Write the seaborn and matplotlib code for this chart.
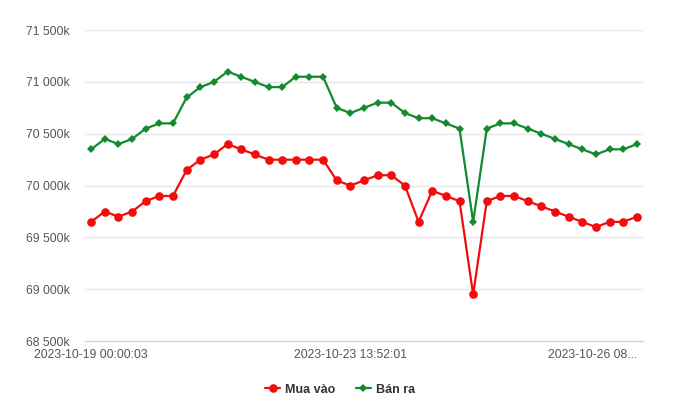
import numpy as np
import pandas as pd
import matplotlib
matplotlib.use('Agg')
import matplotlib.pyplot as plt
import matplotlib.ticker as mticker
import matplotlib.transforms as mtransforms
from matplotlib.lines import Line2D
import seaborn as sns

# gold price (thousand VND), one value per update
mua_vao = [69650, 69750, 69700, 69750, 69850, 69900, 69900, 70150, 70250, 70300,
           70400, 70350, 70300, 70250, 70250, 70250, 70250, 70250, 70050, 70000,
           70050, 70100, 70100, 70000, 69650, 69950, 69900, 69850, 68950, 69850,
           69900, 69900, 69850, 69800, 69750, 69700, 69650, 69600, 69650, 69650,
           69700]
ban_ra = [70350, 70450, 70400, 70450, 70550, 70600, 70600, 70850, 70950, 71000,
          71100, 71050, 71000, 70950, 70950, 71050, 71050, 71050, 70750, 70700,
          70750, 70800, 70800, 70700, 70650, 70650, 70600, 70550, 69650, 70550,
          70600, 70600, 70550, 70500, 70450, 70400, 70350, 70300, 70350, 70350,
          70400]
tick_idx = [0, 19, 38]
tick_labels = ['2023-10-19 00:00:03', '2023-10-23 13:52:01', '2023-10-26 08...']
y_ticks = [68500, 69000, 69500, 70000, 70500, 71000, 71500]

df = pd.DataFrame({'idx': np.arange(len(mua_vao)), 'Mua vào': mua_vao, 'Bán ra': ban_ra})

sns.set_style('white')
plt.rcParams['font.family'] = ['Liberation Sans', 'DejaVu Sans']

red = '#f20d0d'
green = '#138a2e'

fig = plt.figure(figsize=(6.8, 4.18), dpi=100)
ax = fig.add_axes([0.125, 0.184, 0.8206, 0.744])

sns.lineplot(data=df, x='idx', y='Mua vào', ax=ax, color=red, lw=1.6,
             marker='o', markersize=6.2, markeredgewidth=0, zorder=3)
sns.lineplot(data=df, x='idx', y='Bán ra', ax=ax, color=green, lw=1.6,
             marker='D', markersize=4.2, markeredgewidth=0, zorder=3)

ax.set_xlim(-0.45, len(mua_vao) - 0.55)
ax.set_ylim(68500, 71500)
ax.set_yticks(y_ticks)
ax.yaxis.set_major_formatter(mticker.FuncFormatter(lambda v, p: f'{v:,.0f}'.replace(',', ' ') + 'k'))
ax.set_xticks(tick_idx)
ax.set_xticklabels(tick_labels)
ax.tick_params(axis='both', length=0, labelsize=8.8, labelcolor='#555555')
ax.tick_params(axis='y', pad=11)
ax.tick_params(axis='x', pad=6)
# last label is clipped by the chart edge, nudge it left
last = ax.get_xticklabels()[-1]
last.set_transform(last.get_transform() + mtransforms.ScaledTranslation(-17 / 100, 0, fig.dpi_scale_trans))
ax.grid(axis='y', color='#e6e6e6', lw=1)
ax.set_axisbelow(True)
ax.set_xlabel('')
ax.set_ylabel('')
for s in ['top', 'right', 'left']:
    ax.spines[s].set_visible(False)
ax.spines['bottom'].set_color('#ccd6eb')
ax.spines['bottom'].set_linewidth(1)

handles = [Line2D([], [], color=red, lw=1.6, marker='o', markersize=6.2, markeredgewidth=0),
           Line2D([], [], color=green, lw=1.6, marker='D', markersize=4.2, markeredgewidth=0)]
fig.legend(handles, ['Mua vào', 'Bán ra'], loc='center', bbox_to_anchor=(0.5, 0.068), ncol=2,
           frameon=False, handlelength=1.2, columnspacing=1.6, handletextpad=0.4,
           prop={'size': 9, 'weight': 'bold'}, labelcolor='#333333')

fig.savefig('out.png', dpi=100)
